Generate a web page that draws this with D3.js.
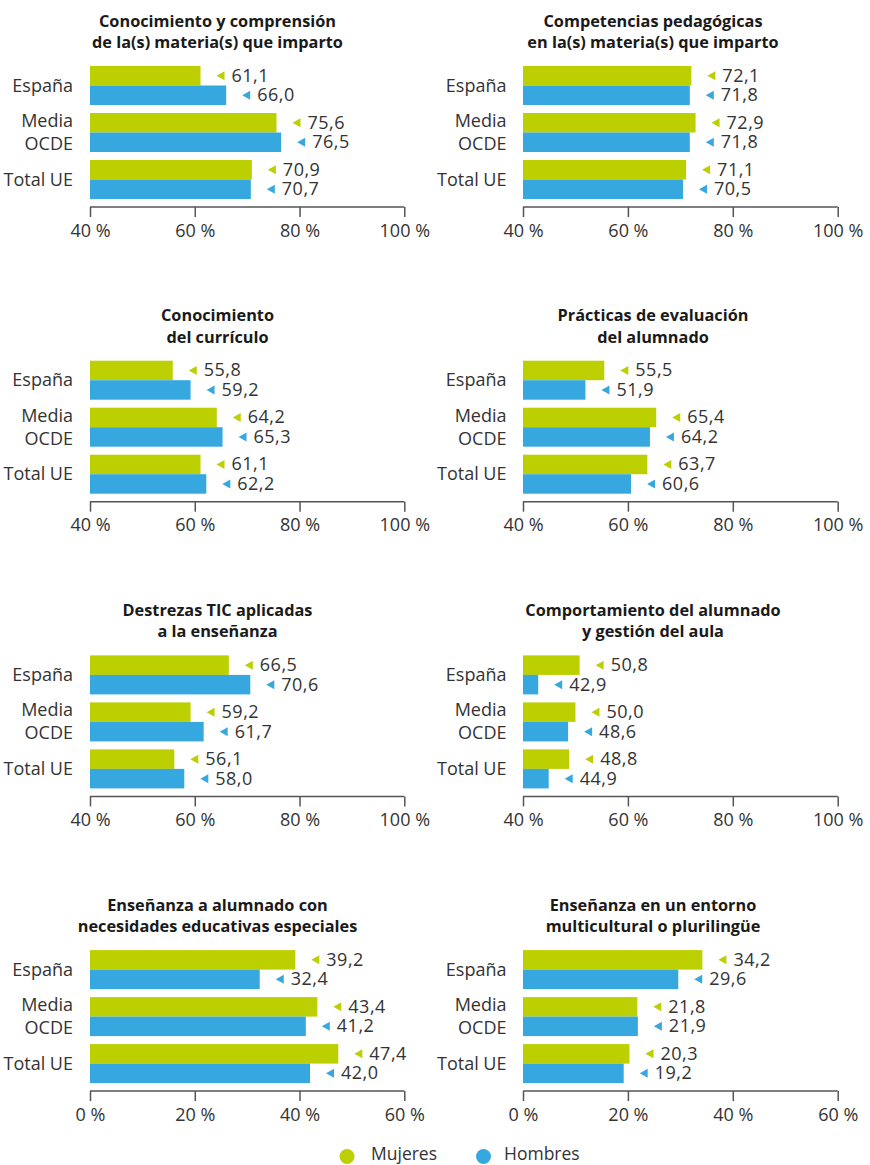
<!DOCTYPE html>
<html><head><meta charset="utf-8">
<script src="https://cdn.jsdelivr.net/npm/d3@7"></script>
<style>body{margin:0;background:#fff;}svg{display:block;font-family:"Open Sans",sans-serif;}</style>
</head><body><div id="chart"></div>
<script>
const categories = ["España", "Media OCDE", "Total UE"];
const series = ["Mujeres", "Hombres"];
const titles = [
  ["Conocimiento y comprensión", "de la(s) materia(s) que imparto"],
  ["Competencias pedagógicas", "en la(s) materia(s) que imparto"],
  ["Conocimiento", "del currículo"],
  ["Prácticas de evaluación", "del alumnado"],
  ["Destrezas TIC aplicadas", "a la enseñanza"],
  ["Comportamiento del alumnado", "y gestión del aula"],
  ["Enseñanza a alumnado con", "necesidades educativas especiales"],
  ["Enseñanza en un entorno", "multicultural o plurilingüe"]
];
const mujeres = [
  [61.1, 75.6, 70.9],
  [72.1, 72.9, 71.1],
  [55.8, 64.2, 61.1],
  [55.5, 65.4, 63.7],
  [66.5, 59.2, 56.1],
  [50.8, 50.0, 48.8],
  [39.2, 43.4, 47.4],
  [34.2, 21.8, 20.3]
];
const hombres = [
  [66.0, 76.5, 70.7],
  [71.8, 71.8, 70.5],
  [59.2, 65.3, 62.2],
  [51.9, 64.2, 60.6],
  [70.6, 61.7, 58.0],
  [42.9, 48.6, 44.9],
  [32.4, 41.2, 42.0],
  [29.6, 21.9, 19.2]
];
const domains = [[40,100],[40,100],[40,100],[40,100],[40,100],[40,100],[0,60],[0,60]];
const tickValues = [[40,60,80,100],[40,60,80,100],[40,60,80,100],[40,60,80,100],[40,60,80,100],[40,60,80,100],[0,20,40,60],[0,20,40,60]];

const colors = {Mujeres: "#bccf00", Hombres: "#36a8df"};
const textColor = "#333333";
const W = 870, H = 1165;
const svg = d3.select("#chart").append("svg").attr("width", W).attr("height", H);

const rowStep = 294.7;
const colX = [{x0: 90, x1: 404.3, tx: 217.5, lx: 73}, {x0: 523, x1: 837.7, tx: 653, lx: 506.5}];

const yBand = d3.scaleBand().domain(categories).range([62, 203]).paddingInner(8/47).paddingOuter(4/47);
const ySub = d3.scaleBand().domain(series).range([0, yBand.bandwidth()]);

titles.forEach((t, i) => {
  const col = colX[i % 2];
  const row = Math.floor(i / 2);
  const g = svg.append("g").attr("transform", `translate(0,${row * rowStep})`);
  const x = d3.scaleLinear().domain(domains[i]).range([col.x0, col.x1]);

  // title
  [t[0], t[1]].forEach((line, j) => {
    g.append("text").attr("x", col.tx).attr("y", j === 0 ? 26.5 : 48).attr("text-anchor", "middle")
      .attr("font-weight", 700).attr("font-size", 16.3).attr("fill", "#1a1a1a").text(line);
  });

  const data = categories.map((c, k) => ({cat: c, vals: [
    {s: "Mujeres", v: mujeres[i][k]}, {s: "Hombres", v: hombres[i][k]}]}));

  const grp = g.selectAll("g.cat").data(data).enter().append("g")
    .attr("transform", d => `translate(0,${yBand(d.cat)})`);

  grp.selectAll("rect").data(d => d.vals).enter().append("rect")
    .attr("x", x(domains[i][0]))
    .attr("y", d => ySub(d.s))
    .attr("width", d => x(d.v) - x(domains[i][0]))
    .attr("height", ySub.bandwidth())
    .attr("fill", d => colors[d.s]);

  grp.selectAll("path.tri").data(d => d.vals).enter().append("path")
    .attr("d", d => {
      const xe = x(d.v) + 16, yc = ySub(d.s) + ySub.bandwidth() / 2;
      return `M${xe},${yc} L${xe + 8},${yc - 4.5} L${xe + 8},${yc + 4.5} Z`;
    })
    .attr("fill", d => colors[d.s]);

  grp.selectAll("text.val").data(d => d.vals).enter().append("text")
    .attr("x", d => x(d.v) + 31)
    .attr("y", d => ySub(d.s) + ySub.bandwidth() / 2 + 6)
    .attr("font-size", 18).attr("letter-spacing", 0.5).attr("fill", textColor)
    .text(d => d3.format(".1f")(d.v).replace(".", ","));

  // category labels
  grp.each(function(d) {
    const gg = d3.select(this);
    const cy = yBand.bandwidth() / 2;
    const parts = d.cat === "Media OCDE" ? ["Media", "OCDE"] : [d.cat];
    parts.forEach((p, j) => {
      const off = parts.length === 1 ? 0 : (j === 0 ? -11.5 : 11.5);
      gg.append("text").attr("x", col.lx).attr("y", cy + off + 6)
        .attr("text-anchor", "end").attr("font-size", 18).attr("fill", textColor).text(p);
    });
  });

  // axis
  const axis = d3.axisBottom(x).tickValues(tickValues[i]).tickSize(10).tickPadding(7)
    .tickFormat(v => v + " %");
  const ag = g.append("g").attr("transform", "translate(0,207)").call(axis);
  ag.select(".domain").attr("d", `M${col.x0},0H${col.x1}`).attr("stroke", "#555").attr("stroke-width", 1.5);
  ag.selectAll(".tick line").attr("stroke", "#555").attr("stroke-width", 1.5);
  ag.selectAll(".tick text").attr("font-size", 18).attr("fill", textColor)
    .attr("font-family", "Open Sans, sans-serif");
});

// legend
const legend = svg.append("g");
const legItems = [{s: "Mujeres", cx: 347, tx: 371}, {s: "Hombres", cx: 483.5, tx: 504}];
legItems.forEach(l => {
  legend.append("circle").attr("cx", l.cx).attr("cy", 1156.5).attr("r", 7.5).attr("fill", colors[l.s]);
  legend.append("text").attr("x", l.tx).attr("y", 1160).attr("font-size", 17.5).attr("fill", textColor).text(l.s);
});
</script></body></html>
